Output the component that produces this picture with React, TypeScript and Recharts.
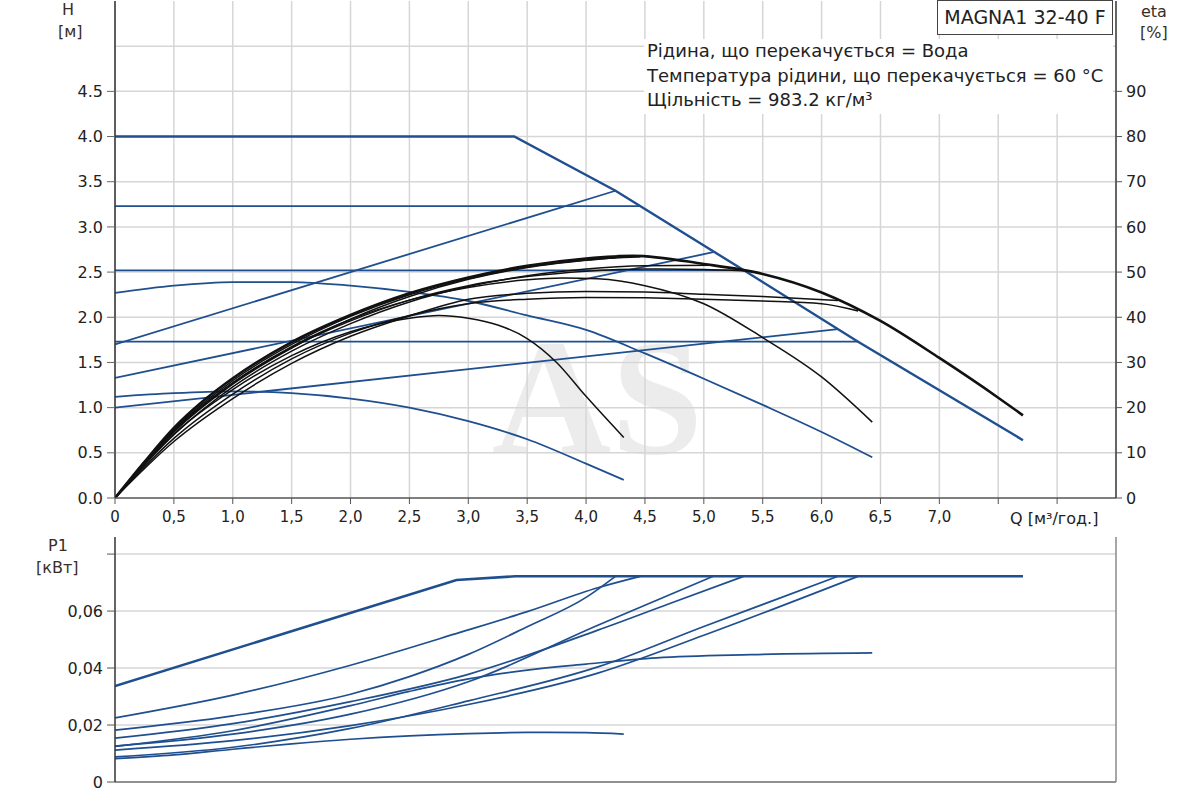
import React from 'react';
import { LineChart, Line, XAxis, YAxis, CartesianGrid } from 'recharts';

type Pt = [number, number];

// Q-H curves: [Q m3/h, H m]
const qhMax: Pt[] = [[0, 4.0], [3.39, 4.0], [4.25, 3.4], [5.34, 2.52], [6.31, 1.73], [7.71, 0.64]];
const qhCp3: Pt[] = [[0, 3.23], [4.46, 3.23]];
const qhPp3: Pt[] = [[0, 1.7], [4.25, 3.4]];
const qhCp2: Pt[] = [[0, 2.52], [5.34, 2.52]];
const qhPp2: Pt[] = [[0, 1.33], [5.08, 2.72]];
const qhCp1: Pt[] = [[0, 1.73], [6.31, 1.73]];
const qhPp1: Pt[] = [[0, 1.0], [6.14, 1.87]];
const qhFs2: Pt[] = [[0, 2.27], [0.5, 2.35], [1, 2.39], [1.5, 2.39], [2, 2.35], [2.5, 2.28], [3, 2.18], [3.5, 2.02], [4, 1.86], [4.5, 1.6], [5, 1.32], [5.5, 1.03], [6, 0.73], [6.43, 0.45]];
const qhFs1: Pt[] = [[0, 1.12], [0.5, 1.16], [1, 1.18], [1.5, 1.16], [2, 1.1], [2.5, 1.0], [3, 0.85], [3.5, 0.65], [4, 0.38], [4.32, 0.2]];

// efficiency curves: [Q, eta %]
const etaMax: Pt[] = [[0, 0], [0.25, 8], [0.5, 15.5], [0.75, 21.5], [1, 26.5], [1.5, 34.5], [2, 40.5], [2.5, 45.3], [3, 48.8], [3.5, 51.4], [4, 53], [4.4, 53.6], [5, 51.8], [5.5, 49.6], [6, 45.5], [6.5, 39.2], [7, 31], [7.5, 22.2], [7.71, 18.3]];
const etaCp3: Pt[] = [[0, 0], [0.5, 15.2], [1, 26], [1.5, 34], [2, 40.2], [2.5, 45], [3, 48.5], [3.5, 51.1], [4, 52.7], [4.46, 53.4]];
const etaPp3: Pt[] = [[0, 0], [0.5, 14.6], [1, 25.2], [1.5, 33.2], [2, 39.6], [2.5, 44.6], [3, 48.4], [3.5, 51], [4, 52.6], [4.25, 53.2]];
const etaCp2: Pt[] = [[0, 0], [0.5, 14.8], [1, 25.5], [1.5, 33.3], [2, 39.2], [2.5, 43.8], [3, 47], [3.5, 49], [4, 50.2], [4.5, 50.7], [5, 50.6], [5.34, 50.3]];
const etaPp2: Pt[] = [[0, 0], [0.5, 14], [1, 24.6], [1.5, 32.5], [2, 38.6], [2.5, 43.4], [3, 46.8], [3.5, 49.2], [4, 50.7], [4.5, 51.4], [5.08, 51.5]];
const etaCp1: Pt[] = [[0, 0], [0.5, 13.2], [1, 23], [1.5, 30.8], [2, 36.5], [2.5, 40.4], [3, 43], [3.5, 44], [4, 44.4], [4.5, 44.3], [5, 44], [5.5, 43.6], [6, 43], [6.31, 41.4]];
const etaPp1: Pt[] = [[0, 0], [0.5, 12.5], [1, 22], [1.5, 29.8], [2, 35.8], [2.5, 40.3], [3, 44], [3.5, 45.3], [4, 45.7], [4.5, 45.6], [5, 45.1], [5.5, 44.6], [6.14, 43.7]];
const etaFs2: Pt[] = [[0, 0], [0.5, 15], [1, 25.5], [1.5, 33.5], [2, 39.5], [2.5, 43.8], [3, 46.6], [3.5, 48.3], [3.8, 48.7], [4.1, 48.5], [4.5, 47], [5, 43], [5.5, 35.5], [6, 26.8], [6.43, 16.8]];
const etaFs1: Pt[] = [[0, 0], [0.5, 14.2], [1, 24], [1.5, 31.5], [2, 36.8], [2.5, 39.8], [2.75, 40.4], [3, 39.8], [3.25, 38.3], [3.5, 35.3], [3.75, 30], [4, 22.5], [4.32, 13.4]];

// power curves: [Q, P1 kW]
const pMax: Pt[] = [[0, 0.0337], [2.9, 0.0709], [3.4, 0.0722], [7.71, 0.0722]];
const pCp3: Pt[] = [[0, 0.0225], [1, 0.0305], [2, 0.041], [2.93, 0.0525], [3.5, 0.0598], [4.1, 0.0682], [4.46, 0.0722]];
const pPp3: Pt[] = [[0, 0.0182], [1, 0.0232], [2, 0.0308], [2.5, 0.037], [3, 0.0448], [3.5, 0.0545], [4, 0.0648], [4.25, 0.0722]];
const pCp2: Pt[] = [[0, 0.0154], [1, 0.0205], [2, 0.0282], [3, 0.0378], [4.1, 0.0533], [4.7, 0.0625], [5.34, 0.0722]];
const pPp2: Pt[] = [[0, 0.0126], [1, 0.0168], [2, 0.0238], [3, 0.0352], [4.1, 0.055], [5.08, 0.0722]];
const pFs2: Pt[] = [[0, 0.0125], [1, 0.018], [2, 0.0268], [2.5, 0.0318], [3, 0.0362], [3.5, 0.0393], [4, 0.0414], [4.6, 0.0436], [5.4, 0.0447], [6.43, 0.0453]];
const pCp1: Pt[] = [[0, 0.0112], [1, 0.0145], [2, 0.0198], [3, 0.0272], [4.1, 0.0382], [5, 0.0515], [6.31, 0.0722]];
const pPp1: Pt[] = [[0, 0.0088], [1, 0.0122], [2, 0.0188], [3, 0.0285], [4.1, 0.0404], [5, 0.0546], [6.14, 0.0722]];
const pFs1: Pt[] = [[0, 0.0082], [0.5, 0.0095], [1, 0.0115], [1.5, 0.0134], [2, 0.015], [2.5, 0.0162], [3, 0.017], [3.5, 0.0174], [4, 0.0173], [4.32, 0.0168]];

const qTicks = [0, 0.5, 1, 1.5, 2, 2.5, 3, 3.5, 4, 4.5, 5, 5.5, 6, 6.5, 7, 7.5, 8];
const hTicks = [0, 0.5, 1, 1.5, 2, 2.5, 3, 3.5, 4, 4.5];
const hGrid = [0.5, 1, 1.5, 2, 2.5, 3, 3.5, 4, 4.5, 5];
const etaTicks = [0, 10, 20, 30, 40, 50, 60, 70, 80, 90];
const pTicks = [0, 0.02, 0.04, 0.06, 0.08];

const infoLines = [
  'Рідина, що перекачується = Вода',
  'Температура рідини, що перекачується = 60 °C',
  'Щільність = 983.2 кг/м³',
];

const BLUE = '#1f4f8f';
const BLACK = '#111111';
const GRID = '#d6d6d6';
const FONT = '"DejaVu Sans", "Liberation Sans", sans-serif';
const tickStyle = { fontSize: 16, fill: '#222', fontFamily: FONT };
const xTickStyle = { fontSize: 15, fill: '#222', fontFamily: FONT };

const rows = (pts: Pt[]) => pts.map(([q, v]) => ({ q, v }));

type Series = { id: string; pts: Pt[]; curve: 'linear' | 'monotone'; width: number };

const headSeries: Series[] = [
  { id: 'hcp3', pts: qhCp3, curve: 'linear', width: 1.8 },
  { id: 'hpp3', pts: qhPp3, curve: 'linear', width: 1.8 },
  { id: 'hcp2', pts: qhCp2, curve: 'linear', width: 1.8 },
  { id: 'hpp2', pts: qhPp2, curve: 'linear', width: 1.8 },
  { id: 'hcp1', pts: qhCp1, curve: 'linear', width: 1.8 },
  { id: 'hpp1', pts: qhPp1, curve: 'linear', width: 1.8 },
  { id: 'hfs2', pts: qhFs2, curve: 'monotone', width: 1.8 },
  { id: 'hfs1', pts: qhFs1, curve: 'monotone', width: 1.8 },
  { id: 'hmax', pts: qhMax, curve: 'linear', width: 2.4 },
];

const etaSeries: Series[] = [
  { id: 'ecp3', pts: etaCp3, curve: 'monotone', width: 1.5 },
  { id: 'epp3', pts: etaPp3, curve: 'monotone', width: 1.5 },
  { id: 'ecp2', pts: etaCp2, curve: 'monotone', width: 1.5 },
  { id: 'epp2', pts: etaPp2, curve: 'monotone', width: 1.5 },
  { id: 'ecp1', pts: etaCp1, curve: 'monotone', width: 1.5 },
  { id: 'epp1', pts: etaPp1, curve: 'monotone', width: 1.5 },
  { id: 'efs2', pts: etaFs2, curve: 'monotone', width: 1.5 },
  { id: 'efs1', pts: etaFs1, curve: 'monotone', width: 1.5 },
  { id: 'emax', pts: etaMax, curve: 'monotone', width: 2.6 },
];

const powerSeries: Series[] = [
  { id: 'pcp3', pts: pCp3, curve: 'monotone', width: 1.7 },
  { id: 'ppp3', pts: pPp3, curve: 'monotone', width: 1.7 },
  { id: 'pcp2', pts: pCp2, curve: 'monotone', width: 1.7 },
  { id: 'ppp2', pts: pPp2, curve: 'monotone', width: 1.7 },
  { id: 'pfs2', pts: pFs2, curve: 'monotone', width: 1.7 },
  { id: 'pcp1', pts: pCp1, curve: 'monotone', width: 1.7 },
  { id: 'ppp1', pts: pPp1, curve: 'monotone', width: 1.7 },
  { id: 'pfs1', pts: pFs1, curve: 'monotone', width: 1.7 },
  { id: 'pmax', pts: pMax, curve: 'linear', width: 2.6 },
];

const fmtQ = (v: number) => (v === 0 ? '0' : v >= 7.5 ? '' : v.toFixed(1).replace('.', ','));
const fmtP = (v: number) => (v === 0 ? '0' : v >= 0.08 ? '' : v.toFixed(2).replace('.', ','));

const label = (text: string, left: number, top: number, extra: React.CSSProperties = {}) => (
  <div style={{ position: 'absolute', left, top, fontSize: 16, color: '#3a2e25', whiteSpace: 'nowrap', ...extra }}>{text}</div>
);

export default function App() {
  return (
    <div style={{ position: 'absolute', left: 0, top: 0, width: 1200, height: 800, background: '#fff', overflow: 'hidden', fontFamily: FONT }}>
      {/* faint watermark behind the plot */}
      <div style={{ position: 'absolute', left: 492, top: 303, fontSize: 165, fontFamily: '"Liberation Serif", serif', fontWeight: 'bold', color: '#ececec', whiteSpace: 'nowrap' }}>AS</div>

      <div style={{ position: 'absolute', left: 0, top: 0 }}>
        <LineChart width={1200} height={530} margin={{ top: 1, right: 0, bottom: 2, left: 55 }}>
          <CartesianGrid stroke={GRID} strokeWidth={1.5} horizontalValues={hGrid} verticalValues={qTicks} />
          <XAxis type="number" dataKey="q" domain={[0, 8.5]} ticks={qTicks} interval={0} allowDataOverflow
            tickFormatter={fmtQ} tick={xTickStyle} tickSize={6} tickMargin={7}
            axisLine={{ stroke: '#555', strokeWidth: 1.5 }} tickLine={{ stroke: '#555' }} height={30} />
          <XAxis xAxisId="top" orientation="top" type="number" dataKey="q" domain={[0, 8.5]} tick={false} tickLine={false}
            height={0} axisLine={{ stroke: '#a0a0a0', strokeWidth: 1.5 }} />
          <YAxis type="number" domain={[0, 5.5]} ticks={hTicks} interval={0} allowDataOverflow width={60}
            tickFormatter={(v: number) => v.toFixed(1)} tick={tickStyle} tickSize={8} tickMargin={4}
            axisLine={{ stroke: '#333', strokeWidth: 1.5 }} tickLine={{ stroke: '#666' }} />
          <YAxis yAxisId="eta" orientation="right" type="number" domain={[0, 110]} ticks={etaTicks} interval={0} allowDataOverflow width={84}
            tick={tickStyle} tickSize={6} tickMargin={4}
            axisLine={{ stroke: '#333', strokeWidth: 1.5 }} tickLine={{ stroke: '#555' }} />
          {headSeries.map((s) => (
            <Line key={s.id} data={rows(s.pts)} dataKey="v" type={s.curve} stroke={BLUE} strokeWidth={s.width}
              dot={false} activeDot={false} isAnimationActive={false} />
          ))}
          {etaSeries.map((s) => (
            <Line key={s.id} yAxisId="eta" data={rows(s.pts)} dataKey="v" type={s.curve} stroke={BLACK} strokeWidth={s.width}
              dot={false} activeDot={false} isAnimationActive={false} />
          ))}
        </LineChart>
      </div>

      <div style={{ position: 'absolute', left: 0, top: 530 }}>
        <LineChart width={1200} height={270} margin={{ top: 7, right: 0, bottom: 17, left: 55 }}>
          <CartesianGrid stroke={GRID} strokeWidth={1.5} horizontalValues={pTicks} verticalValues={qTicks} />
          <XAxis type="number" dataKey="q" domain={[0, 8.5]} ticks={qTicks} allowDataOverflow tick={false} tickLine={false}
            height={1} axisLine={{ stroke: '#777', strokeWidth: 1.5 }} />
          <XAxis xAxisId="top" orientation="top" type="number" dataKey="q" domain={[0, 8.5]} tick={false} tickLine={false}
            height={0} axisLine={{ stroke: '#999', strokeWidth: 1.5 }} />
          <YAxis type="number" domain={[0, 0.086]} ticks={pTicks} interval={0} allowDataOverflow width={60}
            tickFormatter={fmtP} tick={tickStyle} tickSize={8} tickMargin={4}
            axisLine={{ stroke: '#333', strokeWidth: 1.5 }} tickLine={{ stroke: '#555' }} />
          <YAxis yAxisId="r" orientation="right" type="number" domain={[0, 0.086]} tick={false} tickLine={false} width={84}
            axisLine={{ stroke: '#888', strokeWidth: 1.5 }} />
          {powerSeries.map((s) => (
            <Line key={s.id} data={rows(s.pts)} dataKey="v" type={s.curve} stroke={BLUE} strokeWidth={s.width}
              dot={false} activeDot={false} isAnimationActive={false} />
          ))}
        </LineChart>
      </div>

      {label('H', 62, 0)}
      {label('[м]', 58, 22)}
      {label('eta', 1141, 2)}
      {label('[%]', 1140, 23)}
      {label('P1', 48, 536)}
      {label('[кВт]', 36, 558)}
      {label('Q [м³/год.]', 1010, 509, { color: '#222' })}

      <div style={{ position: 'absolute', left: 644, top: 39, width: 469, height: 75, background: '#fff' }}>
        {infoLines.map((t) => (
          <div key={t} style={{ fontSize: 18, lineHeight: '24.5px', color: '#222', paddingLeft: 3, whiteSpace: 'nowrap' }}>{t}</div>
        ))}
      </div>
      <div style={{ position: 'absolute', left: 937, top: 0, width: 174, height: 33, background: '#fff', border: '1px solid #444',
        fontSize: 19, lineHeight: '33px', textAlign: 'center', color: '#222', whiteSpace: 'nowrap' }}>MAGNA1 32-40 F</div>
    </div>
  );
}
